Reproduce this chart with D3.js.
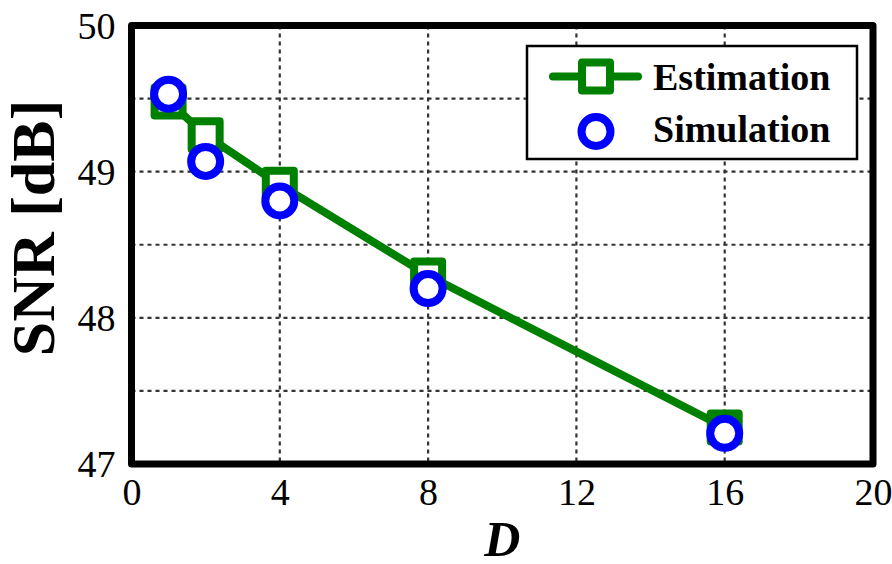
<!DOCTYPE html>
<html>
<head>
<meta charset="utf-8">
<script src="https://cdn.jsdelivr.net/npm/d3@7"></script>
<style>
body { margin: 0; background: #fff; }
text { font-family: "Liberation Serif", "Times New Roman", serif; }
</style>
</head>
<body>
<script>
// chart values
var dValues = [1, 2, 4, 8, 16]
var estimation = [49.48, 49.25, 48.91, 48.29, 47.25]
var simulation = [49.53, 49.07, 48.80, 48.20, 47.21]
var xTicks = [0, 4, 8, 12, 16, 20]
var yTicks = [47, 48, 49, 50]
var yGrid = [47.5, 48, 48.5, 49, 49.5]
var seriesNames = ["Estimation", "Simulation"]

var W = 892, H = 564
var plotL = 131.5, plotR = 873, plotT = 25.5, plotB = 464
var serif = "'Liberation Serif', 'Times New Roman', serif"

var svg = d3.select("body").append("svg")
	.attr("width", W)
	.attr("height", H)

var x = d3.scaleLinear().domain([0, 20]).range([plotL, plotR])
var y = d3.scaleLinear().domain([47, 50]).range([plotB, plotT])

// GRID
svg.selectAll("line.vg")
	.data(xTicks.slice(1, -1))
	.enter().append("line")
	.attr("class", "vg")
	.attr("x1", d => x(d)).attr("x2", d => x(d))
	.attr("y1", plotT).attr("y2", plotB)
	.style("stroke", "#333").style("stroke-width", 2.2)
	.style("stroke-dasharray", "4,4")

svg.selectAll("line.hg")
	.data(yGrid)
	.enter().append("line")
	.attr("class", "hg")
	.attr("y1", d => y(d)).attr("y2", d => y(d))
	.attr("x1", plotL).attr("x2", plotR)
	.style("stroke", "#333").style("stroke-width", 2.2)
	.style("stroke-dasharray", "4,4")

// AXES TICK LABELS
var xAxis = d3.axisBottom(x).tickValues(xTicks).tickFormat(d3.format("d")).tickSize(0).tickPadding(14)
var gx = svg.append("g").attr("transform", "translate(0," + plotB + ")").call(xAxis)
gx.select(".domain").remove()
gx.selectAll("text").style("font-size", "38px").style("font-family", serif).style("fill", "#000")
	.attr("dy", "0.71em")

var yAxis = d3.axisLeft(y).tickValues(yTicks).tickFormat(d3.format("d")).tickSize(0).tickPadding(16)
var gy = svg.append("g").attr("transform", "translate(" + plotL + ",0)").call(yAxis)
gy.select(".domain").remove()
gy.selectAll("text").style("font-size", "38px").style("font-family", serif).style("fill", "#000")
	.attr("dy", "0.34em")

// FRAME
svg.append("rect")
	.attr("x", plotL).attr("y", plotT)
	.attr("width", plotR - plotL).attr("height", plotB - plotT)
	.style("fill", "none").style("stroke", "#000").style("stroke-width", 7)
	.style("stroke-linejoin", "round")

// ESTIMATION LINE + SQUARES
var estData = dValues.map((d, i) => ({ d: d, v: estimation[i] }))
var simData = dValues.map((d, i) => ({ d: d, v: simulation[i] }))

svg.append("path")
	.datum(estData)
	.attr("d", d3.line().x(p => x(p.d)).y(p => y(p.v)))
	.style("fill", "none").style("stroke", "#008000").style("stroke-width", 8)
	.style("stroke-linejoin", "round")

var sq = 28
svg.selectAll("rect.est")
	.data(estData)
	.enter().append("rect")
	.attr("class", "est")
	.attr("x", p => x(p.d) - sq / 2).attr("y", p => y(p.v) - sq / 2)
	.attr("width", sq).attr("height", sq)
	.style("fill", "#fff").style("stroke", "#008000").style("stroke-width", 8)
	.style("stroke-linejoin", "round")

svg.selectAll("circle.sim")
	.data(simData)
	.enter().append("circle")
	.attr("class", "sim")
	.attr("cx", p => x(p.d)).attr("cy", p => y(p.v))
	.attr("r", 14.5)
	.style("fill", "#fff").style("stroke", "#0000ff").style("stroke-width", 8)

// AXIS TITLES
svg.append("text")
	.attr("transform", "translate(54,228) rotate(-90)")
	.attr("text-anchor", "middle")
	.style("font-size", "62px").style("font-weight", "bold")
	.text("SNR [dB]")

svg.append("text")
	.attr("x", (plotL + plotR) / 2).attr("y", 556)
	.attr("text-anchor", "middle")
	.style("font-size", "50px").style("font-weight", "bold").style("font-style", "italic")
	.text("D")

// LEGEND
var lg = svg.append("g")
lg.append("rect")
	.attr("x", 527).attr("y", 46).attr("width", 330).attr("height", 113)
	.style("fill", "#fff").style("stroke", "#000").style("stroke-width", 2.5)

lg.append("line")
	.attr("x1", 553).attr("x2", 638).attr("y1", 76.5).attr("y2", 76.5)
	.style("stroke", "#008000").style("stroke-width", 8).style("stroke-linecap", "round")
lg.append("rect")
	.attr("x", 596 - sq / 2).attr("y", 76.5 - sq / 2).attr("width", sq).attr("height", sq)
	.style("fill", "#fff").style("stroke", "#008000").style("stroke-width", 8)
	.style("stroke-linejoin", "round")
lg.append("circle")
	.attr("cx", 596).attr("cy", 131.5).attr("r", 14.5)
	.style("fill", "#fff").style("stroke", "#0000ff").style("stroke-width", 8)

lg.selectAll("text")
	.data(seriesNames)
	.enter().append("text")
	.attr("x", 653).attr("y", (d, i) => 90 + i * 52)
	.style("font-size", "38px").style("font-weight", "bold")
	.text(d => d)
</script>
</body>
</html>
